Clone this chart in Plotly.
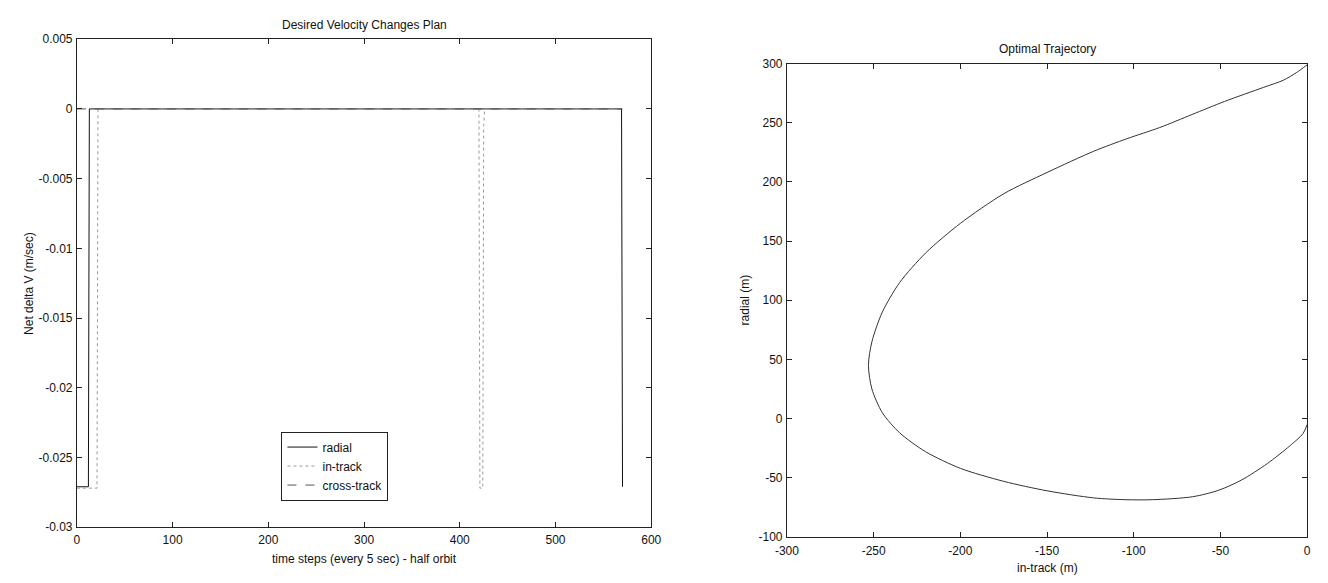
import plotly.graph_objects as go

# ---- Left chart: Desired Velocity Changes Plan ----
radial_t = [0, 12, 13, 569, 570]
radial_v = [-0.0271, -0.0271, 0, 0, -0.0271]

intrack_t = [0, 21, 22, 420, 421, 424, 425, 426, 570]
intrack_v = [-0.0272, -0.0272, 0, 0, -0.0272, -0.0272, -0.0012, 0, 0]

cross_t = [0, 570]
cross_v = [0, 0]

left_xticks = [0, 100, 200, 300, 400, 500, 600]
left_yticks = [0.005, 0, -0.005, -0.01, -0.015, -0.02, -0.025, -0.03]
left_yticktext = ["0.005", "0", "-0.005", "-0.01", "-0.015", "-0.02", "-0.025", "-0.03"]

# ---- Right chart: Optimal Trajectory ----
traj_x = [0, -6, -13.7, -25, -47.7, -66.4, -85, -104, -123, -150, -175, -200, -220,
          -235, -245, -251, -253, -251, -245, -235, -220, -200, -175, -150, -123,
          -105, -89, -66, -51, -38, -23, -10, -2.4, 0]
traj_y = [299, 292.6, 286, 280, 268, 257, 246, 236.5, 226, 208, 190, 165, 140,
          115, 90, 65, 45, 25, 5, -12, -28, -42, -53, -61, -67,
          -68.5, -68.5, -66, -60.5, -52, -38, -23, -12.6, -5]

right_xticks = [-300, -250, -200, -150, -100, -50, 0]
right_xticktext = ["-300", "-250", "-200", "-150", "-100", "-50", "0"]
right_yticks = [300, 250, 200, 150, 100, 50, 0, -50, -100]
right_yticktext = ["300", "250", "200", "150", "100", "50", "0", "-50", "-100"]

W, H = 1328, 583
FONT = "Liberation Sans, Arial, sans-serif"

fig = go.Figure()
fig.add_trace(go.Scatter(x=radial_t, y=radial_v, mode="lines", name="radial",
                         line=dict(color="#111111", width=1), xaxis="x", yaxis="y"))
fig.add_trace(go.Scatter(x=intrack_t, y=intrack_v, mode="lines", name="in-track",
                         line=dict(color="#9a9a9a", width=1, dash="dot"), xaxis="x", yaxis="y"))
fig.add_trace(go.Scatter(x=cross_t, y=cross_v, mode="lines", name="cross-track",
                         line=dict(color="#555555", width=1, dash="dash"), xaxis="x", yaxis="y"))
fig.add_trace(go.Scatter(x=traj_x, y=traj_y, mode="lines", name="trajectory", showlegend=False,
                         line=dict(color="#333333", width=1, shape="spline", smoothing=0.8),
                         xaxis="x2", yaxis="y2"))

axis_common = dict(showline=True, linecolor="#222222", linewidth=1, mirror="ticks",
                   ticks="inside", ticklen=5, tickcolor="#222222", showgrid=False,
                   zeroline=False, tickfont=dict(size=12, color="#111111", family=FONT))

fig.update_layout(
    width=W, height=H,
    margin=dict(l=0, r=0, t=0, b=0),
    paper_bgcolor="white", plot_bgcolor="white",
    font=dict(family=FONT, size=12, color="#111111"),
    xaxis=dict(domain=[66 / W, 650 / W], range=[0, 600], tickvals=left_xticks,
               anchor="y", ticklabelstandoff=1, **axis_common),
    yaxis=dict(domain=[(H - 533) / H, (H - 33) / H], range=[-0.03, 0.005],
               tickvals=left_yticks, ticktext=left_yticktext, anchor="x",
               ticklabelstandoff=1, **axis_common),
    xaxis2=dict(domain=[788 / W, 1317 / W], range=[-300, 0], tickvals=right_xticks,
                ticktext=right_xticktext, anchor="y2", ticklabelstandoff=3, **axis_common),
    yaxis2=dict(domain=[(H - 543) / H, (H - 58) / H], range=[-100, 300],
                tickvals=right_yticks, ticktext=right_yticktext, anchor="x2",
                ticklabelstandoff=1, **axis_common),
    legend=dict(x=274 / W, y=1 - 435 / H, xanchor="left", yanchor="top",
                bgcolor="white", bordercolor="#222222", borderwidth=1,
                font=dict(size=12, family=FONT), tracegroupgap=0, itemwidth=30),
    showlegend=True,
)

annots = [
    dict(text="Desired Velocity Changes Plan", x=358 / W, y=1 - 18 / H),
    dict(text="Optimal Trajectory", x=1053 / W, y=1 - 43 / H),
    dict(text="time steps (every 5 sec) - half orbit", x=358 / W, y=1 - 566 / H),
    dict(text="in-track (m)", x=1053 / W, y=1 - 575 / H),
    dict(text="Net delta V (m/sec)", x=18 / W, y=1 - 283 / H, textangle=-90),
    dict(text="radial (m)", x=745 / W, y=1 - 300 / H, textangle=-90),
]
for a in annots:
    fig.add_annotation(xref="paper", yref="paper", showarrow=False,
                       xanchor="center", yanchor="middle",
                       font=dict(size=12, family=FONT, color="#111111"), **a)

fig.write_html("out.html")
